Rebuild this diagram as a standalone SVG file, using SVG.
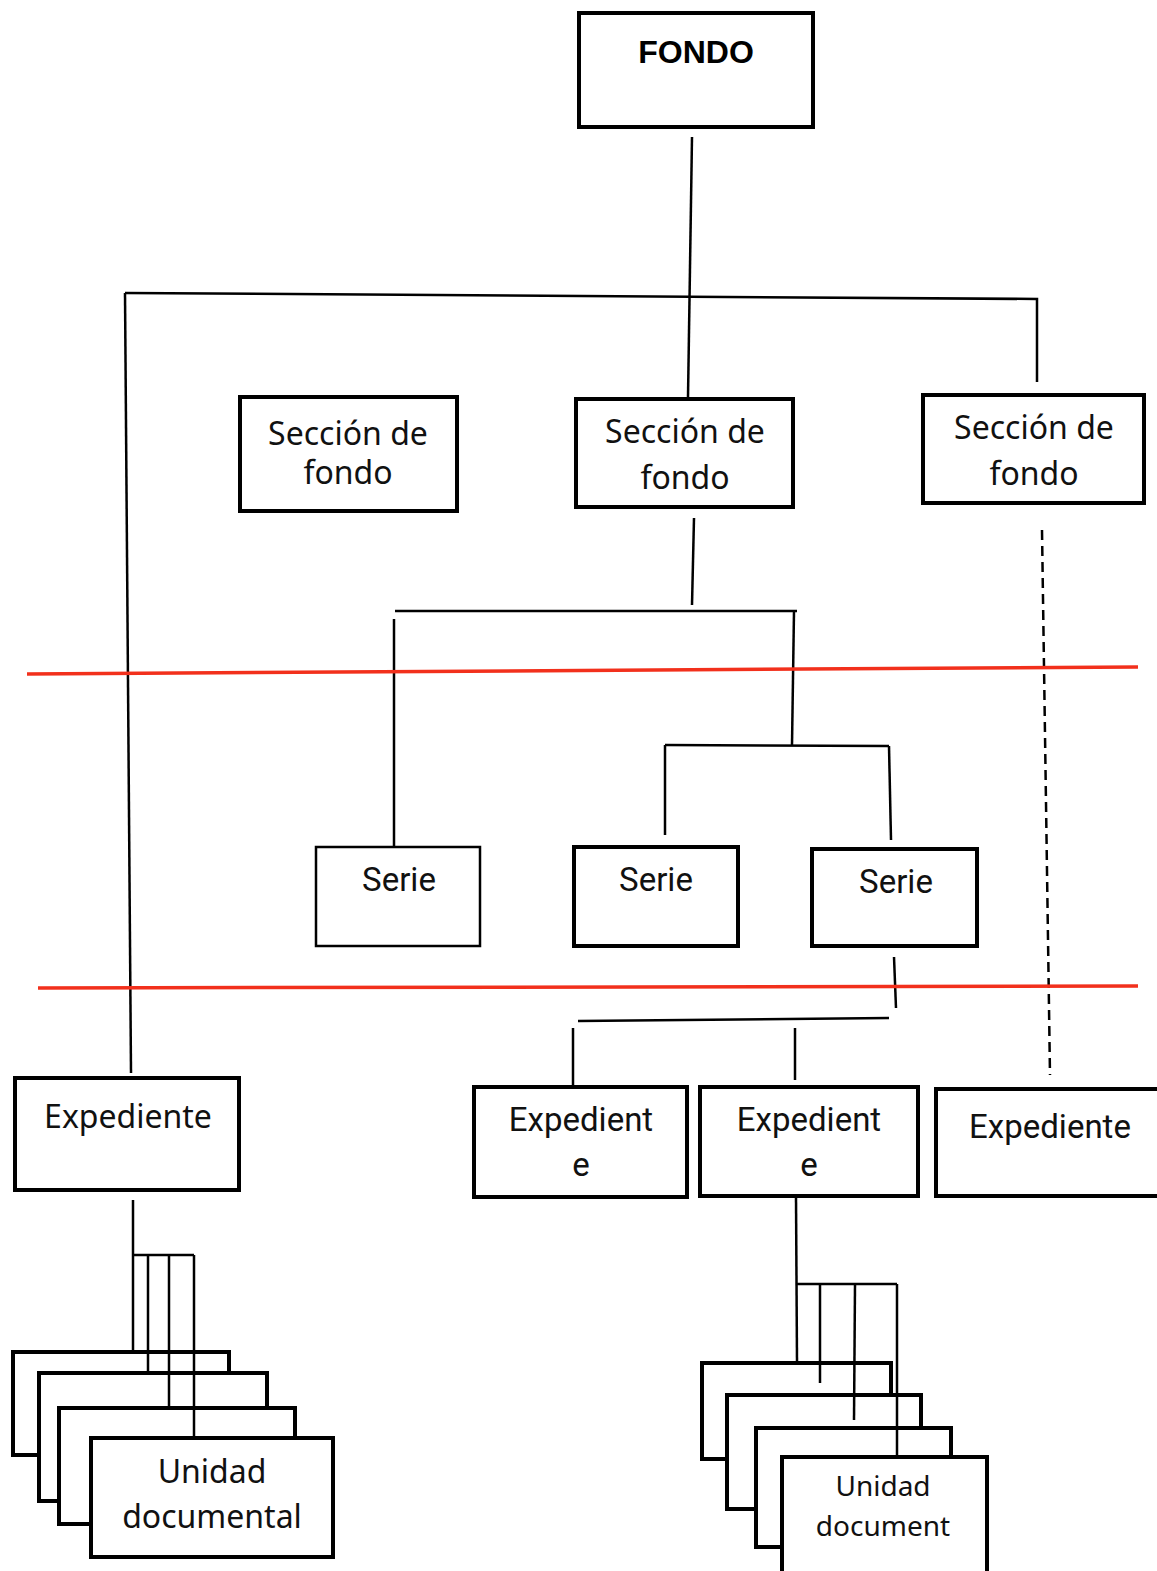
<svg xmlns="http://www.w3.org/2000/svg" width="1157" height="1571" viewBox="0 0 1157 1571">
<style>
.b{fill:#fff;stroke:#000;stroke-width:4}
.t{fill:#fff;stroke:#000;stroke-width:2.5}
.tx{font-family:"Noto Sans",sans-serif;font-size:32px;fill:#111;text-anchor:middle}
.nx{font-family:Roboto,sans-serif;font-size:33px;fill:#111;text-anchor:middle}
.c{stroke:#000;stroke-width:2.5;fill:none}
.r{stroke:#f2301c;stroke-width:3.5;fill:none}
</style>
<rect width="1157" height="1571" fill="#fff"/>
<g id="fondo"><rect class="b" x="579" y="13" width="234" height="114"/><text x="696" y="63" style="font-family:'Liberation Sans',sans-serif;font-size:32px;font-weight:bold;text-anchor:middle">FONDO</text></g>
<g id="seccion1"><rect class="b" x="240" y="397" width="217" height="114"/><text class="tx" x="348" y="445">Sección de</text><text class="tx" x="348" y="484">fondo</text></g>
<g id="seccion2"><rect class="b" x="576" y="399" width="217" height="108"/><text class="tx" x="685" y="443">Sección de</text><text class="tx" x="685" y="489">fondo</text></g>
<g id="seccion3"><rect class="b" x="923" y="395" width="221" height="108"/><text class="tx" x="1034" y="439">Sección de</text><text class="tx" x="1034" y="485">fondo</text></g>
<g id="serie1"><rect class="t" x="316" y="847" width="164" height="99"/><text class="nx" x="399" y="891">Serie</text></g>
<g id="serie2"><rect class="b" x="574" y="847" width="164" height="99"/><text class="nx" x="656" y="891">Serie</text></g>
<g id="serie3"><rect class="b" x="812" y="849" width="165" height="97"/><text class="nx" x="896" y="893">Serie</text></g>
<g id="exp-left"><rect class="b" x="15" y="1078" width="224" height="112"/><text class="tx" x="128" y="1128">Expediente</text></g>
<g id="exp1"><rect class="b" x="474" y="1087" width="213" height="110"/><text class="nx" x="581" y="1131">Expedient</text><text class="nx" x="581" y="1176">e</text></g>
<g id="exp2"><rect class="b" x="700" y="1087" width="218" height="109"/><text class="nx" x="809" y="1131">Expedient</text><text class="nx" x="809" y="1176">e</text></g>
<g id="exp3"><rect class="b" x="936" y="1089" width="225" height="107"/><text class="nx" x="1050" y="1138">Expediente</text></g>
<g id="unidad-left">
<rect class="b" x="13" y="1352" width="216" height="103"/>
<rect class="b" x="39" y="1373" width="228" height="128"/>
<rect class="b" x="59" y="1408" width="236" height="116"/>
<rect class="b" x="91" y="1438" width="242" height="119"/>
<text class="tx" x="212" y="1483">Unidad</text><text class="tx" x="212" y="1528">documental</text>
</g>
<g id="unidad-right">
<rect class="b" x="702" y="1363" width="189" height="96"/>
<rect class="b" x="727" y="1395" width="194" height="114"/>
<rect class="b" x="756" y="1428" width="195" height="119"/>
<rect class="b" x="782" y="1457" width="205" height="120"/>
<text class="tx" x="883" y="1496" style="font-size:28px">Unidad</text><text class="tx" x="883" y="1536" style="font-size:28px">document</text>
</g>
<g id="connectors">
<line class="c" x1="692" y1="137" x2="688" y2="397"/>
<polyline class="c" points="125,293 1037,299 1037,382"/>
<line class="c" x1="125" y1="293" x2="131" y2="1073"/>
<line class="c" x1="694" y1="518" x2="692" y2="605"/>
<line class="c" x1="395" y1="611" x2="797" y2="611"/>
<line class="c" x1="394" y1="619" x2="394" y2="847"/>
<line class="c" x1="794" y1="611" x2="792" y2="745"/>
<line class="c" x1="665" y1="745" x2="889" y2="746"/>
<line class="c" x1="665" y1="745" x2="665" y2="835"/>
<line class="c" x1="889" y1="746" x2="891" y2="840"/>
<line class="c" x1="894" y1="957" x2="896" y2="1008"/>
<line class="c" x1="578" y1="1021" x2="889" y2="1018"/>
<line class="c" x1="573" y1="1028" x2="573" y2="1087"/>
<line class="c" x1="795" y1="1028" x2="795" y2="1080"/>
<line class="c" x1="1042" y1="530" x2="1050" y2="1075" stroke-dasharray="10 6"/>
<line class="c" x1="133" y1="1200" x2="133" y2="1352"/>
<line class="c" x1="133" y1="1255" x2="194" y2="1255"/>
<line class="c" x1="148" y1="1255" x2="148" y2="1373"/>
<line class="c" x1="169" y1="1255" x2="169" y2="1408"/>
<line class="c" x1="194" y1="1255" x2="194" y2="1438"/>
<line class="c" x1="796" y1="1197" x2="797" y2="1363"/>
<line class="c" x1="796" y1="1284" x2="897" y2="1284"/>
<line class="c" x1="820" y1="1284" x2="820" y2="1383"/>
<line class="c" x1="855" y1="1284" x2="854" y2="1420"/>
<line class="c" x1="897" y1="1284" x2="897" y2="1457"/>
<line class="r" x1="27" y1="674" x2="1138" y2="667"/>
<line class="r" x1="38" y1="988" x2="1138" y2="986"/>
</g>
</svg>
